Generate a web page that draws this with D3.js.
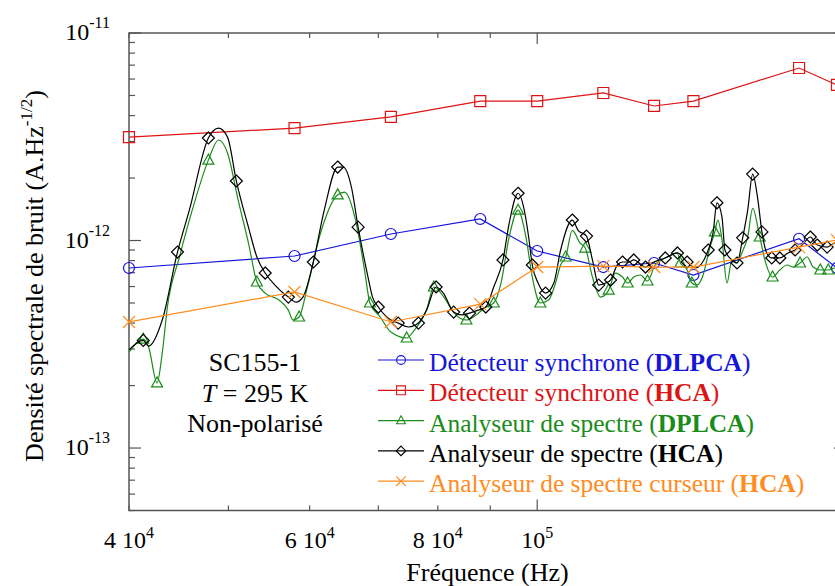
<!DOCTYPE html>
<html>
<head>
<meta charset="utf-8">
<script src="https://cdn.jsdelivr.net/npm/d3@7"></script>
<style>
  body { margin: 0; background: #fff; }
  text { font-family: "Liberation Serif", "Times New Roman", serif; }
</style>
</head>
<body>
<svg id="mainsvg" width="835" height="586"></svg>
<script>
// frequencies in kHz, noise densities in units of 1e-13 A/sqrt(Hz)
const syncFreq = [40, 58, 72, 88, 100, 116, 130, 142, 180, 196];
const syncDLPCA = [7.37, 8.42, 10.75, 12.7, 8.9, 7.45, 7.79, 6.82, 10.2, 7.37];
const syncHCA = [31.5, 34.8, 39.4, 47.0, 47.0, 51.4, 44.5, 47.0, 67.8, 56.2];
const cursorHCA = [4.05, 5.65, 4.05, 4.94, 7.45, 7.53, 7.45, 7.45, 9.3, 10.05];

// spectrum analyser, HCA
const specHCAFreq = [40.0, 41.3, 41.8, 43.1, 44.6, 45.8, 47.8, 48.9, 49.9, 50.9, 52.3, 53.3, 54.3, 55.5,
  57.2, 58.2, 59.1, 60.5, 62.0, 63.9, 64.7, 65.9, 66.9, 68.4, 69.1, 70.0, 72.0, 73.2, 74.9, 76.6,
  78.0, 79.7, 81.0, 82.9, 84.4, 85.9, 87.6, 89.1, 90.7, 92.6, 93.9, 95.8, 97.0, 98.1, 98.9, 100.2,
  101.9, 103.8, 105.4, 108.2, 109.6, 111.7, 113.2, 114.8, 116.6, 117.9, 119.7, 121.1, 122.8, 124.2,
  127.5, 129.4, 133.3, 137.0, 140.0, 142.6, 146.8, 148.4, 149.7, 151.4, 152.4, 154.8, 156.6, 158.6,
  160.4, 162.2, 164.1, 165.6, 167.4, 169.3, 172.4, 175.6, 178.4, 181.2, 184.6, 187.5, 191.7, 195.2, 200];
const specHCA = [2.97, 3.3, 3.1, 4.14, 8.8, 14.0, 31.2, 34.8, 31.5, 19.35, 11.6, 8.33, 6.97, 6.10,
  5.34, 5.05, 5.34, 7.88, 14.0, 22.6, 22.6, 18.1, 11.6, 6.67, 5.34, 4.78, 4.14, 4.00, 3.83, 4.00,
  4.62, 5.97, 5.58, 4.52, 4.38, 4.47, 4.62, 4.78, 5.97, 8.06, 12.1, 16.9, 14.5, 10.4, 7.62, 6.24,
  5.58, 6.24, 9.0, 12.55, 11.2, 10.5, 8.06, 6.10, 6.24, 6.45, 7.62, 7.88, 7.88, 8.06,
  7.45, 7.79, 8.24, 8.71, 7.88, 7.37, 9.0, 10.9, 15.2, 13.0, 9.0, 8.06, 7.79, 10.3,
  14.0, 20.9, 15.7, 11.0, 8.71, 8.24, 8.24, 8.71, 9.0, 9.51, 10.4, 9.51, 9.3, 9.72, 9.41];
const specHCAMarks = [41.3, 44.6, 47.8, 50.9, 54.3, 57.2, 60.5, 63.9, 66.9, 70.0, 73.2, 76.6, 79.7,
  82.9, 85.9, 89.1, 92.6, 95.8, 98.9, 101.9, 108.2, 111.7, 114.8, 117.9, 121.1, 124.2, 127.5, 133.3,
  137.0, 140.0, 146.8, 149.7, 152.4, 156.6, 158.6, 162.2, 165.6, 169.3, 172.4, 178.4, 184.6, 187.5, 191.7];

// spectrum analyser, DPLCA
const specDPLCAFreq = [40.0, 41.3, 41.8, 42.6, 43.1, 43.6, 44.8, 46.1, 47.8, 48.9, 49.9, 51.1, 52.3,
  53.3, 54.3, 56.0, 57.2, 57.8, 58.6, 59.7, 61.5, 63.9, 64.9, 66.4, 67.8, 68.7, 70.3, 72.0, 74.6,
  75.9, 78.0, 79.3, 81.1, 83.0, 85.3, 87.2, 89.1, 90.7, 92.2, 93.9, 95.8, 97.5, 98.9, 100.7, 102.6,
  104.2, 105.4, 106.6, 108.2, 110.1, 111.4, 113.2, 115.3, 117.4, 119.2, 121.1, 122.5, 124.2, 126.1,
  128.1, 130.3, 133.9, 137.0, 137.9, 140.0, 141.5, 143.0, 144.8, 147.4, 149.0, 150.0, 151.4, 153.1,
  154.8, 156.6, 158.3, 160.4, 162.2, 164.8, 166.7, 169.6, 172.4, 175.2, 177.6, 180.4, 183.3, 185.8,
  188.8, 192.2, 195.2, 200];
const specDPLCA = [2.90, 3.35, 3.07, 2.06, 2.87, 4.78, 8.33, 14.0, 24.4, 30.5, 26.4, 15.7, 9.72,
  6.31, 5.58, 5.17, 4.62, 4.14, 4.28, 5.97, 10.9, 16.6, 17.1, 13.0, 7.45, 5.0, 4.28, 3.62, 3.39,
  3.70, 4.62, 5.97, 5.34, 4.47, 4.14, 4.38, 4.78, 5.0, 6.24, 10.4, 14.0, 10.4, 6.67, 5.0, 5.17,
  6.24, 7.62, 8.33, 11.2, 9.72, 9.2, 6.67, 5.34, 5.77, 6.97, 6.67, 6.24, 6.67, 6.82,
  6.38, 7.62, 8.33, 8.71, 7.79, 7.21, 6.24, 6.10, 6.60, 9.3, 11.0, 12.55, 10.1, 6.24,
  8.06, 7.79, 8.71, 10.4, 14.3, 10.4, 8.06, 6.67, 7.21, 7.62, 7.45, 7.79, 8.33, 7.45,
  7.21, 7.21, 7.37, 7.21];
const specDPLCAMarks = [41.3, 42.6, 47.8, 53.3, 58.6, 63.9, 68.7, 74.6, 79.3, 85.3, 90.7, 95.8, 100.7,
  106.6, 111.4, 117.4, 122.5, 128.1, 137.9, 141.5, 149.0, 164.8, 169.6, 180.4, 188.8, 192.2];

const xTickValues = [4e4, 6e4, 8e4, 1e5];
const xTickMantissa = ['4 ', '6 ', '8 ', ''];
const xTickExp = ['4', '4', '4', '5'];
const yTickValues = [1e-13, 1e-12, 1e-11];
const yTickExp = ['-13', '-12', '-11'];

const svg = d3.select('#mainsvg');
const width = +svg.attr('width');
const height = +svg.attr('height');
// the frame goes on past the right edge of the picture, up to 2 10^5 Hz
const box = { left: 129, top: 33, right: 846, bottom: 510.5 };

const x = d3.scaleLog().domain([4e4, 2e5]).range([box.left, box.right]);
const y = d3.scaleLog().domain([5e-14, 1e-11]).range([box.bottom, box.top]);

const toPts = (fs, vs) => fs.map((f, i) => ({ f: f * 1e3, v: vs[i] * 1e-13 }));
const line = d3.line().x(d => x(d.f)).y(d => y(d.v));
// the analyser traces are dense in the original, so they look smooth
const smoothLine = d3.line().x(d => x(d.f)).y(d => y(d.v)).curve(d3.curveMonotoneX);
const axisColor = '#555';

svg.append('defs').append('clipPath').attr('id', 'clip')
  .append('rect').attr('x', box.left).attr('y', box.top)
  .attr('width', box.right - box.left).attr('height', box.bottom - box.top);

// frame
svg.append('rect')
  .attr('x', box.left).attr('y', box.top)
  .attr('width', box.right - box.left).attr('height', box.bottom - box.top)
  .attr('fill', 'none').attr('stroke', axisColor).attr('stroke-width', 1.5);

const isMajor = v => Math.abs(Math.log10(v) - Math.round(Math.log10(v))) < 1e-6;

const ticks = svg.append('g').attr('stroke', axisColor).attr('stroke-width', 1.2);
x.ticks().forEach(v => {
  const len = isMajor(v) ? 11 : 5;
  ticks.append('line').attr('x1', x(v)).attr('x2', x(v)).attr('y1', box.bottom).attr('y2', box.bottom - len);
  ticks.append('line').attr('x1', x(v)).attr('x2', x(v)).attr('y1', box.top).attr('y2', box.top + len);
});
y.ticks().forEach(v => {
  const len = isMajor(v) ? 12 : 6;
  ticks.append('line').attr('y1', y(v)).attr('y2', y(v)).attr('x1', box.left).attr('x2', box.left + len);
  ticks.append('line').attr('y1', y(v)).attr('y2', y(v)).attr('x1', box.right).attr('x2', box.right - len);
});

// tick labels
xTickValues.forEach((v, i) => {
  const t = svg.append('text')
    .attr('x', x(v)).attr('y', 548)
    .attr('text-anchor', 'middle')
    .attr('font-size', 24);
  t.append('tspan').text(xTickMantissa[i] + '10');
  t.append('tspan').attr('font-size', 16).attr('dy', -10).text(xTickExp[i]);
});
yTickValues.forEach((v, i) => {
  const t = svg.append('text')
    .attr('x', 110).attr('y', y(v) + 7)
    .attr('text-anchor', 'end')
    .attr('font-size', 24);
  t.append('tspan').text('10');
  t.append('tspan').attr('font-size', 16).attr('dy', -12).text(yTickExp[i]);
});

// axis titles
svg.append('text')
  .attr('x', (box.left + box.right) / 2).attr('y', 581)
  .attr('text-anchor', 'middle').attr('font-size', 26)
  .text('Fréquence (Hz)');

const yt = svg.append('text')
  .attr('transform', 'translate(43, 276) rotate(-90)')
  .attr('text-anchor', 'middle').attr('font-size', 26);
yt.append('tspan').text('Densité spectrale de bruit (A.Hz');
yt.append('tspan').attr('font-size', 17).attr('dy', -11).text('-1/2');
yt.append('tspan').attr('dy', 11).text(')');

// series
const blue = '#1414dc', red = '#dc1414', green = '#1a8c1a', black = '#000', orange = '#ff8c1e';
const series = [
  { color: blue, pts: toPts(syncFreq, syncDLPCA), marks: null, sym: 'circle', gen: line },
  { color: red, pts: toPts(syncFreq, syncHCA), marks: null, sym: 'square', gen: line },
  { color: green, pts: toPts(specDPLCAFreq, specDPLCA), marks: specDPLCAMarks, sym: 'triangle', gen: smoothLine },
  { color: black, pts: toPts(specHCAFreq, specHCA), marks: specHCAMarks, sym: 'diamond', gen: smoothLine },
  { color: orange, pts: toPts(syncFreq, cursorHCA), marks: null, sym: 'cross', gen: line }
];

const symPath = {
  circle: d3.symbol(d3.symbolCircle, 95)(),
  square: d3.symbol(d3.symbolSquare, 121)(),
  triangle: 'M0,-6L5.5,4L-5.5,4Z',
  diamond: 'M0,-6L6,0L0,6L-6,0Z',
  cross: 'M-6,-6L6,6M-6,6L6,-6'
};

const plot = svg.append('g');
series.forEach(s => {
  plot.append('path')
    .attr('clip-path', 'url(#clip)')
    .attr('d', s.gen(s.pts))
    .attr('fill', 'none')
    .attr('stroke', s.color)
    .attr('stroke-width', 1.2);
  const marked = s.marks ? s.pts.filter(d => s.marks.includes(d.f / 1e3)) : s.pts;
  plot.selectAll(null).data(marked).join('path')
    .attr('transform', d => `translate(${x(d.f)},${y(d.v)})`)
    .attr('d', symPath[s.sym])
    .attr('fill', 'none')
    .attr('stroke', s.color)
    .attr('stroke-width', 1.2);
});

// annotation
const notes = svg.append('g').attr('font-size', 26).attr('text-anchor', 'middle');
notes.append('text').attr('x', 255).attr('y', 371).text('SC155-1');
const tl = notes.append('text').attr('x', 255).attr('y', 401.5);
tl.append('tspan').attr('font-style', 'italic').text('T');
tl.append('tspan').text(' = 295 K');
notes.append('text').attr('x', 255).attr('y', 432).text('Non-polarisé');

// legend
const legendPre = ['Détecteur synchrone (', 'Détecteur synchrone (', 'Analyseur de spectre (',
  'Analyseur de spectre (', 'Analyseur de spectre curseur ('];
const legendBold = ['DLPCA', 'HCA', 'DPLCA', 'HCA', 'HCA'];
const legend = svg.append('g');
series.forEach((s, i) => {
  const by = 371 + i * 30.3;
  legend.append('line')
    .attr('x1', 378).attr('x2', 424).attr('y1', by - 11).attr('y2', by - 11)
    .attr('stroke', s.color).attr('stroke-width', 1.2);
  legend.append('path')
    .attr('transform', `translate(401,${by - 11}) scale(0.8)`)
    .attr('d', symPath[s.sym])
    .attr('fill', 'none').attr('stroke', s.color).attr('stroke-width', 1.4);
  const t = legend.append('text')
    .attr('x', 429).attr('y', by)
    .attr('font-size', 25.5).attr('fill', s.color);
  t.append('tspan').text(legendPre[i]);
  t.append('tspan').attr('font-weight', 'bold').text(legendBold[i]);
  t.append('tspan').text(')');
});
</script>
</body>
</html>
